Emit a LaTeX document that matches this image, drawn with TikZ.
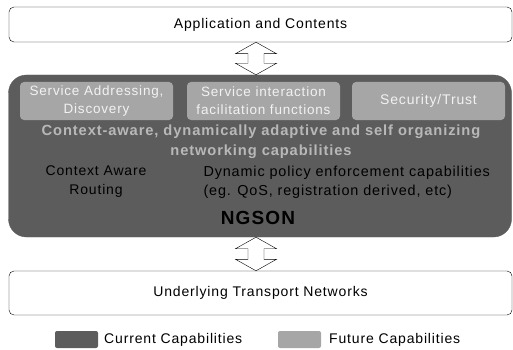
\documentclass[tikz,border=0pt]{standalone}
\usepackage{fontspec}
\setmainfont{Liberation Sans}[LetterSpace=6]
\usetikzlibrary{calc}
\definecolor{current}{HTML}{5C5C5C}
\definecolor{future}{HTML}{A6A6A6}
\definecolor{faded}{HTML}{B8B8B8}
\newcommand\layerwidth{503pt}
% hollow double arrow between the coordinates #1 (top) and #2 (bottom)
\newcommand\interface[2]{%
  \draw[fill=white] (#1) -- ++(20.5,11.5) -- ++(-12.5,0) -- ([shift={(8,-11.5)}]#2) -- ++(12.5,0)
    -- (#2) -- ++(-20.5,-11.5) -- ++(12.5,0) -- ([shift={(-8,11.5)}]#1) -- ++(-12.5,0) -- cycle;}

\begin{document}
\begin{tikzpicture}[x=1pt,y=-1pt,
    every node/.style={font=\fontsize{14}{19}\selectfont},
    layer/.style={draw,rounded corners=5pt,minimum width=\layerwidth,inner sep=0pt},
    future box/.style={fill=future,rounded corners=4pt,minimum width=153pt,minimum height=38pt,
      inner sep=0pt,align=center,text=white!95!black,font=\fontsize{13.5}{18}\selectfont},
    swatch/.style={rounded corners=2pt,minimum width=43pt,minimum height=17pt,inner sep=0pt}]
    \useasboundingbox (0,0) rectangle (513,350);

    % layers
    \node[layer,minimum height=35pt] (app) at (260.5,24.5) {Application and Contents};
    \node[layer,fill=current,draw=current,rounded corners=18pt,minimum height=162pt] (ngson) at (260,156) {};
    \node[layer,minimum height=44pt] (transport) at (260.5,293) {Underlying Transport Networks};

    % interfaces
    \coordinate (axis) at (256,0);
    \coordinate (up top) at (app.south -| axis);
    \coordinate (up bottom) at (ngson.north -| axis);
    \coordinate (down top) at (ngson.south -| axis);
    \coordinate (down bottom) at (transport.north -| axis);
    \interface{up top}{up bottom}
    \interface{down top}{down bottom}

    % future capabilities
    \node[future box] (addr) at (96.5,101) {Service Addressing,\\Discovery};
    \node[future box] (inter) at (263.5,101) {Service interaction\\facilitation functions};
    \node[future box,font=\fontsize{14}{18}\selectfont] (trust) at (428.5,101) {Security/Trust};

    % current capabilities
    \node[text=faded,font=\bfseries\fontsize{14.7}{20}\selectfont,align=center] (adapt) at (261,142)
      {Context-aware, dynamically adaptive and self organizing\\networking capabilities};
    \node[align=center] (routing) at (96,182) {Context Aware\\Routing};
    \node[align=left,anchor=west,font=\fontsize{14.4}{19}\selectfont] (policy) at (200,182)
      {Dynamic policy enforcement capabilities\\(eg. QoS, registration derived, etc)};
    \node[font=\bfseries\fontsize{19}{20}\selectfont] (title) at (258,218) {NGSON};

    % legend
    \node[swatch,fill=current] (cur) at (76.5,339.5) {};
    \node[anchor=west,inner sep=0pt] (curtext) at (104,339.5) {Current Capabilities};
    \node[swatch,fill=future] (fut) at (299.5,339.5) {};
    \node[anchor=west,inner sep=0pt] (futtext) at (329,339.5) {Future Capabilities};
\end{tikzpicture}
\end{document}
